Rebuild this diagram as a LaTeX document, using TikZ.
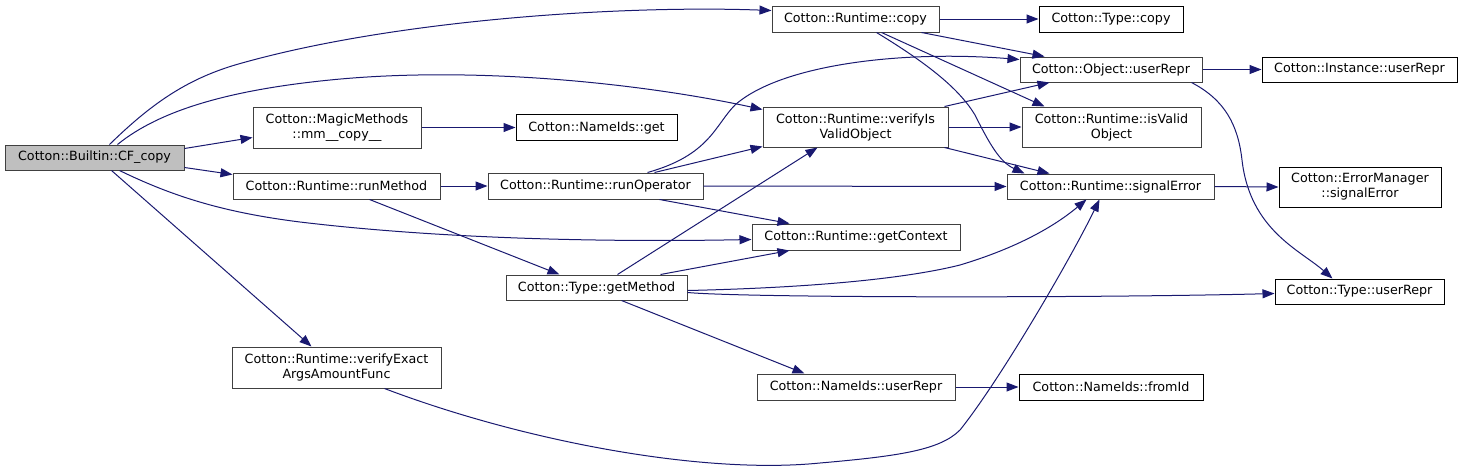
\documentclass[tikz,border=0pt]{standalone}
\usepackage{fontspec}
\setmainfont{DejaVu Sans}
\usetikzlibrary{arrows.meta,calc}
\definecolor{edgeblue}{HTML}{191970}
\definecolor{boxgray}{HTML}{404040}
\definecolor{rootfill}{HTML}{BFBFBF}
\tikzset{
  fn/.style={draw=#1, fill=white, line width=1pt, inner sep=0pt, align=center,
    font=\fontsize{12.7}{15}\selectfont},
  fn/.default=boxgray,
  edge/.style={draw=edgeblue, line width=1pt, -{Triangle[length=12pt,width=9pt]}},
}
\begin{document}
\begin{tikzpicture}[x=1pt,y=-1pt]
\useasboundingbox (0,0) rectangle (1463,469);
% nodes
\node[fn, fill=rootfill, minimum width=179, minimum height=25] (cf) at (94.5,157.5) {Cotton::Builtin::CF\_copy};
\node[fn, minimum width=168, minimum height=41] (mm) at (337,127.5) {Cotton::MagicMethods\\::mm\_\_copy\_\_};
\node[fn, minimum width=207, minimum height=26] (rm) at (336.5,186) {Cotton::Runtime::runMethod};
\node[fn=black, minimum width=161, minimum height=26] (nget) at (596.5,127.5) {Cotton::NameIds::get};
\node[fn, minimum width=215, minimum height=26] (ro) at (595.5,186) {Cotton::Runtime::runOperator};
\node[fn, minimum width=167, minimum height=26] (rcopy) at (855.5,19) {Cotton::Runtime::copy};
\node[fn=black, minimum width=144, minimum height=26] (tcopy) at (1111,19) {Cotton::Type::copy};
\node[fn, minimum width=182, minimum height=25] (ouser) at (1111,69.5) {Cotton::Object::userRepr};
\node[fn, minimum width=185, minimum height=40] (verify) at (855.5,127) {Cotton::Runtime::verifyIs\\ValidObject};
\node[fn, minimum width=179, minimum height=40] (isvalid) at (1111.5,127) {Cotton::Runtime::isValid\\Object};
\node[fn=black, minimum width=195, minimum height=25] (iuser) at (1359.5,69.5) {Cotton::Instance::userRepr};
\node[fn, minimum width=207, minimum height=25] (signal) at (1110.5,186.5) {Cotton::Runtime::signalError};
\node[fn=black, minimum width=162, minimum height=40] (em) at (1360,187) {Cotton::ErrorManager\\::signalError};
\node[fn, minimum width=208, minimum height=26] (getctx) at (856,237) {Cotton::Runtime::getContext};
\node[fn, minimum width=181, minimum height=25] (getm) at (596.5,287.5) {Cotton::Type::getMethod};
\node[fn, minimum width=209, minimum height=41] (vexact) at (336.5,367.5) {Cotton::Runtime::verifyExact\\ArgsAmountFunc};
\node[fn, minimum width=198, minimum height=26] (nuser) at (856,387) {Cotton::NameIds::userRepr};
\node[fn=black, minimum width=184, minimum height=26] (fromid) at (1111,387) {Cotton::NameIds::fromId};
\node[fn=black, minimum width=169, minimum height=25] (tuser) at (1359.5,291.5) {Cotton::Type::userRepr};
% edges from CF_copy
\draw[edge] ($(cf.north west)+(105,0)$) .. controls (150,105) and (185,80) .. (235,65)
  .. controls (390,20) and (620,5) .. ($(rcopy.north west)+(0,5)$);
\draw[edge] ($(cf.north west)+(113,0)$) .. controls (160,110) and (230,90) .. (330,80)
  .. controls (480,65) and (650,85) .. ($(verify.north west)+(0,3)$);
\draw[edge] ($(cf.north east)+(0,4)$) -- ($(mm.north west)+(0,31)$);
\draw[edge] ($(cf.south east)+(0,-3)$) -- ($(rm.north west)+(0,2)$);
\draw[edge] ($(cf.south west)+(115,0)$) .. controls (170,195) and (220,212) .. (300,222)
  .. controls (450,240) and (620,242) .. ($(getctx.north west)+(0,16)$);
\draw[edge] ($(cf.south west)+(107,0)$) -- ($(vexact.north west)+(80,0)$);
% other edges
\draw[edge] (mm.east) -- (nget.west);
\draw[edge] (rm.east) -- (ro.west);
\draw[edge] ($(rm.south west)+(137,0)$) -- ($(getm.north west)+(54,0)$);
\draw[edge] ($(ro.north west)+(167,0)$) -- ($(verify.south west)+(0,-1)$);
\draw[edge] ($(ro.north west)+(160,0)$) .. controls (710,155) and (715,125) .. (735,105)
  .. controls (780,65) and (900,50) .. ($(ouser.north west)+(0,3)$);
\draw[edge] (ro.east) -- (signal.west);
\draw[edge] ($(ro.south west)+(172,0)$) -- ($(getctx.north west)+(38,0)$);
\draw[edge] (rcopy.east) -- (tcopy.west);
\draw[edge] ($(rcopy.south west)+(150,0)$) -- ($(ouser.north west)+(25,0)$);
\draw[edge] ($(rcopy.south west)+(110,0)$) -- ($(isvalid.north west)+(23,0)$);
\draw[edge] ($(rcopy.south west)+(105,0)$) .. controls (930,65) and (960,90) .. (975,115)
  .. controls (990,145) and (1000,162) .. ($(signal.north west)+(18,0)$);
\draw[edge] ($(verify.north west)+(182,0)$) -- ($(ouser.south west)+(30,0)$);
\draw[edge] (verify.east) -- (isvalid.west);
\draw[edge] ($(verify.south west)+(182,0)$) -- ($(signal.north west)+(43,0)$);
\draw[edge] (ouser.east) -- (iuser.west);
\draw[edge] ($(ouser.south west)+(172,0)$) .. controls (1225,100) and (1238,125) .. (1242,160)
  .. controls (1250,230) and (1300,250) .. ($(tuser.north west)+(58,0)$);
\draw[edge] (signal.east) -- (em.west);
\draw[edge] ($(getm.north west)+(112,0)$) -- ($(verify.south west)+(55,0)$);
\draw[edge] ($(getm.north west)+(155,0)$) -- ($(getctx.south west)+(38,0)$);
\draw[edge] ($(getm.north east)+(0,16)$) .. controls (800,288) and (900,280) .. (960,265)
  .. controls (1010,250) and (1050,230) .. ($(signal.south west)+(80,0)$);
\draw[edge] ($(getm.north east)+(0,18)$) .. controls (750,298) and (1100,298) .. ($(tuser.north west)+(0,15)$);
\draw[edge] ($(getm.south west)+(116,0)$) -- ($(nuser.north west)+(48,0)$);
\draw[edge] ($(vexact.south west)+(153,0)$) .. controls (520,440) and (700,475) .. (820,463)
  .. controls (900,456) and (940,450) .. (960,430)
  .. controls (1000,380) and (1070,260) .. ($(signal.south west)+(93,0)$);
\draw[edge] (nuser.east) -- (fromid.west);
\end{tikzpicture}
\end{document}
